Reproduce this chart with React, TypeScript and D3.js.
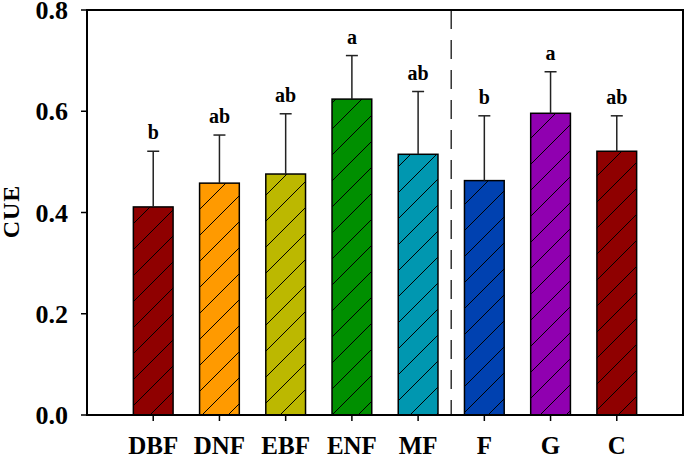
import React from 'react';
import * as d3 from 'd3';

// biome / land-cover classes
const categories = ['DBF', 'DNF', 'EBF', 'ENF', 'MF', 'F', 'G', 'C'];
const cueMean = [0.411, 0.458, 0.476, 0.624, 0.515, 0.463, 0.596, 0.521];
const cueErr = [0.110, 0.095, 0.119, 0.086, 0.124, 0.128, 0.082, 0.070];
const letters = ['b', 'ab', 'ab', 'a', 'ab', 'b', 'a', 'ab'];
const barColors = ['#8f0000', '#ff9a00', '#bcb800', '#008f00', '#0097b0', '#0041b0', '#9000b0', '#8f0000'];
const yTicks = [0, 0.2, 0.4, 0.6, 0.8];

const W = 685;
const H = 459;
const margin = { top: 10, right: 2, bottom: 44, left: 87 };

export default function App() {
  const innerW = W - margin.left - margin.right;
  const innerH = H - margin.top - margin.bottom;

  const x = d3.scalePoint<string>().domain(categories).range([0, innerW]).padding(1);
  const y = d3.scaleLinear().domain([0, 0.8]).range([innerH, 0]);
  const step = x.step();
  const barW = step * 0.6;
  // dashed divider between forest types and F/G/C
  const divX = ((x('MF') as number) + (x('F') as number)) / 2;

  const font = '"Liberation Serif", "Times New Roman", serif';

  return (
    <svg width={W} height={H} style={{ position: 'absolute', left: 0, top: 0, background: '#fff' }}>
      <defs>
        <pattern id="hatch" patternUnits="userSpaceOnUse" width={26} height={26}>
          <path d="M0,26 L26,0 M-2,2 L2,-2 M24,28 L28,24" stroke="#000" strokeWidth={1} />
        </pattern>
      </defs>
      <g transform={`translate(${margin.left},${margin.top})`}>
        {categories.map((c, i) => {
          const cx = x(c) as number;
          const top = y(cueMean[i]);
          const capY = y(cueMean[i] + cueErr[i]);
          return (
            <g key={c}>
              <rect x={cx - barW / 2} y={top} width={barW} height={innerH - top} fill={barColors[i]} />
              <rect x={cx - barW / 2} y={top} width={barW} height={innerH - top} fill="url(#hatch)" stroke="#000" strokeWidth={1.5} />
              <line x1={cx} x2={cx} y1={top} y2={capY} stroke="#222" strokeWidth={1.5} />
              <line x1={cx - 6} x2={cx + 6} y1={capY} y2={capY} stroke="#222" strokeWidth={1.5} />
              <text x={cx} y={capY - 12} textAnchor="middle" fontFamily={font} fontWeight="bold" fontSize={20}>
                {letters[i]}
              </text>
              <line x1={cx} x2={cx} y1={innerH} y2={innerH + 6} stroke="#000" strokeWidth={1.5} />
              <text x={cx} y={innerH + 39} textAnchor="middle" fontFamily={font} fontWeight="bold" fontSize={25}>
                {c}
              </text>
            </g>
          );
        })}

        <line x1={divX} x2={divX} y1={0} y2={innerH} stroke="#333" strokeWidth={1.5} strokeDasharray="19,11" />

        {yTicks.map((t) => (
          <g key={t} transform={`translate(0,${y(t)})`}>
            <line x1={-6} x2={0} stroke="#000" strokeWidth={1.5} />
            <text x={-19} dy="0.35em" textAnchor="end" fontFamily={font} fontWeight="bold" fontSize={26}>
              {d3.format('.1f')(t)}
            </text>
          </g>
        ))}

        <rect x={0} y={0} width={innerW} height={innerH} fill="none" stroke="#000" strokeWidth={2} />

        <text
          transform={`translate(${-68},${innerH / 2 - 1}) rotate(-90)`}
          textAnchor="middle"
          fontFamily={font}
          fontWeight="bold"
          fontSize={24}
          letterSpacing={1}
        >
          CUE
        </text>
      </g>
    </svg>
  );
}
